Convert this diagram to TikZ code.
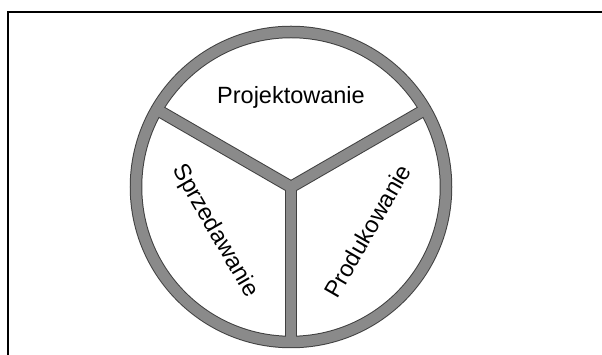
\documentclass[tikz,border=0pt]{standalone}
\usepackage{fontspec}
\setmainfont{Liberation Sans}

\definecolor{ringgray}{RGB}{138,138,138}

\tikzset{
  ringoutline/.style={draw=black!75, line width=12.5pt},
  ringfill/.style={draw=ringgray, line width=10.5pt},
  sectortext/.style={font=\fontsize{23.5}{27}\selectfont, inner sep=0pt},
  framebox/.style={draw=black, line width=1.3pt}
}

\begin{document}
\begin{tikzpicture}[x=1pt, y=1pt]
\useasboundingbox (-291,-168) rectangle (311,187);
\draw[framebox] (-283,-190) rectangle (330,175);

\coordinate (hub) at (0,0);
\coordinate (rimleft) at (150:155);
\coordinate (rimright) at (30:155);
\coordinate (rimbottom) at (270:155);

% ring and spokes, dark edge first
\foreach \pass in {ringoutline,ringfill} {
  \draw[\pass] (hub) circle[radius=155pt];
  \draw[\pass] (rimleft) -- (hub) -- (rimright);
  \draw[\pass] (hub) -- (rimbottom);
}

\node[sectortext] (projektowanie) at (90:90) {Projektowanie};
\node[sectortext, rotate=-60] (sprzedawanie) at (210:88) {Sprzedawanie};
\node[sectortext, rotate=60] (produkowanie) at (330:88) {Produkowanie};
\end{tikzpicture}
\end{document}
